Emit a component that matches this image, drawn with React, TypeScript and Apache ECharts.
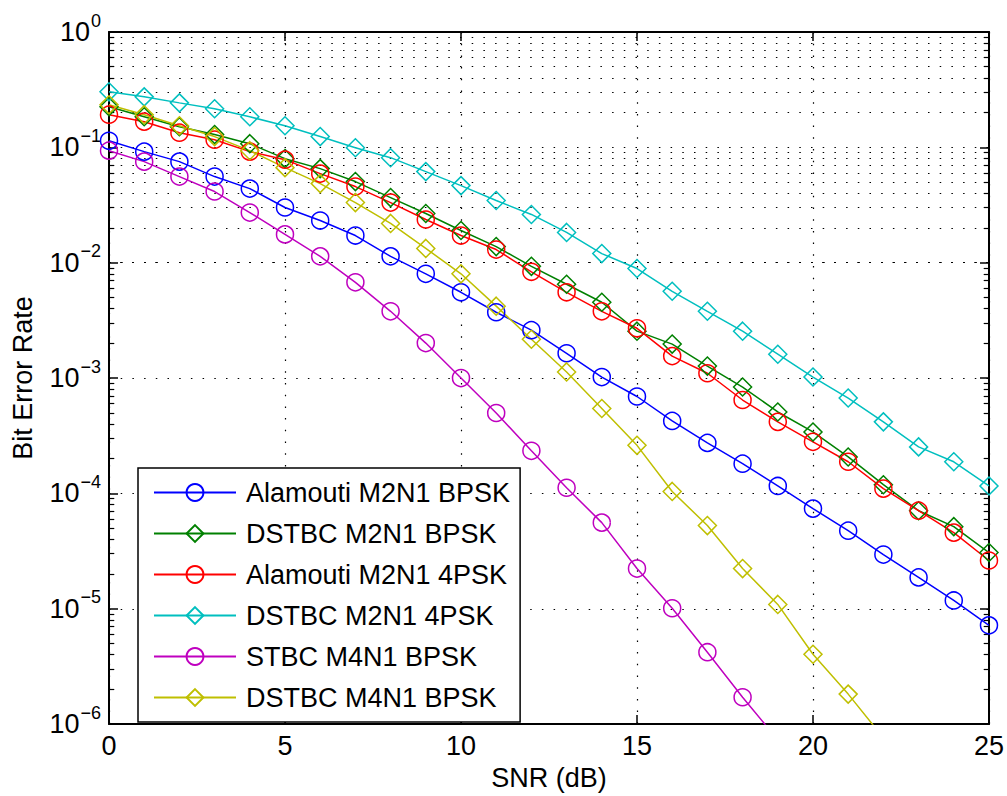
import React, { useEffect, useRef } from "react";
import * as echarts from "echarts";

const snr = [0, 1, 2, 3, 4, 5, 6, 7, 8, 9, 10, 11, 12, 13, 14, 15, 16, 17, 18, 19, 20, 21, 22, 23, 24, 25];

const alamoutiM2N1Bpsk = [0.114, 0.0918, 0.0752, 0.0558, 0.0439, 0.0301, 0.0232, 0.0172, 0.01135, 0.00801, 0.00554, 0.00372, 0.0026, 0.00164, 0.00102, 0.000692, 0.000425, 0.000274, 0.000181, 0.000116, 7.38e-5, 4.75e-5, 2.95e-5, 1.87e-5, 1.18e-5, 7.18e-6];
const dstbcM2N1Bpsk = [0.225, 0.184, 0.151, 0.129, 0.1076, 0.0798, 0.0654, 0.0505, 0.0367, 0.0267, 0.019, 0.0138, 0.0093, 0.0065, 0.00454, 0.00255, 0.00197, 0.00127, 0.000836, 0.000508, 0.000341, 0.000207, 0.000119, 7.08e-5, 5.15e-5, 3.07e-5];
const alamoutiM2N14psk = [0.192, 0.167, 0.134, 0.1165, 0.0918, 0.0782, 0.0592, 0.0457, 0.0332, 0.0237, 0.0172, 0.013, 0.00834, 0.00554, 0.00379, 0.0027, 0.00155, 0.0011, 0.000645, 0.000417, 0.00028, 0.000188, 0.00011, 7.08e-5, 4.57e-5, 2.62e-5];
const dstbcM2N14psk = [0.303, 0.274, 0.243, 0.216, 0.184, 0.154, 0.124, 0.0993, 0.0814, 0.0616, 0.0466, 0.0346, 0.0262, 0.0183, 0.012, 0.0089, 0.00565, 0.00379, 0.00255, 0.00161, 0.00102, 0.000671, 0.000417, 0.000253, 0.000188, 0.000116];
const stbcM4N1Bpsk = [0.0936, 0.0752, 0.0558, 0.0414, 0.0272, 0.0176, 0.01135, 0.00676, 0.00379, 0.00201, 0.001, 0.000498, 0.000234, 0.000112, 5.58e-5, 2.23e-5, 1.01e-5, 4.2e-6, 1.71e-6, 7.3e-7];
const dstbcM4N1Bpsk = [0.234, 0.192, 0.154, 0.124, 0.0936, 0.0667, 0.0485, 0.0332, 0.0219, 0.0133, 0.00801, 0.0042, 0.00217, 0.00113, 0.000545, 0.000261, 0.000104, 5.26e-5, 2.23e-5, 1.09e-5, 4.03e-6, 1.82e-6, 7.6e-7];

const seriesNames = [
  "Alamouti M2N1 BPSK",
  "DSTBC M2N1 BPSK",
  "Alamouti M2N1 4PSK",
  "DSTBC M2N1 4PSK",
  "STBC M4N1 BPSK",
  "DSTBC M4N1 BPSK",
];
const seriesValues = [alamoutiM2N1Bpsk, dstbcM2N1Bpsk, alamoutiM2N14psk, dstbcM2N14psk, stbcM4N1Bpsk, dstbcM4N1Bpsk];
const seriesColors = ["#0000FF", "#008000", "#FF0000", "#00BFBF", "#BF00BF", "#BFBF00"];
const seriesSymbols = ["circle", "diamond", "circle", "diamond", "circle", "diamond"];

const xTicks = [0, 5, 10, 15, 20, 25];
const decades = [-6, -5, -4, -3, -2, -1];
const minorMultipliers = [2, 3, 4, 5, 6, 7, 8, 9];

const FONT = "'Liberation Sans', Arial, Helvetica, sans-serif";

export default function App() {
  const ref = useRef<HTMLDivElement>(null);

  useEffect(() => {
    if (!ref.current) return;
    const chart = echarts.init(ref.current, undefined, { renderer: "svg" });

    const minorValues: number[] = [];
    decades.forEach((e) => minorMultipliers.forEach((m) => minorValues.push(m * Math.pow(10, e))));

    const dotted = { color: "#000", width: 1.2, type: [1.5, 10.2] as any };
    const tickLen = 0.15;

    const dataSeries = seriesNames.map((name, i) => ({
      name,
      type: "line",
      data: seriesValues[i].map((v, j) => [snr[j], v]),
      symbol: seriesSymbols[i],
      symbolSize: seriesSymbols[i] === "circle" ? 17 : 18,
      showSymbol: true,
      clip: true,
      z: 5,
      lineStyle: { color: seriesColors[i], width: 1.5 },
      itemStyle: { color: "rgba(0,0,0,0)", borderColor: seriesColors[i], borderWidth: 1.5 },
      emphasis: { disabled: true },
    }));

    const option: any = {
      animation: false,
      backgroundColor: "#fff",
      grid: { left: 109, right: 17, top: 32, bottom: 70, containLabel: false },
      legend: {
        orient: "vertical",
        left: 138,
        top: 468,
        padding: [11, 10, 11, 15],
        itemGap: 14,
        itemWidth: 82,
        itemHeight: 21,
        borderColor: "#000",
        borderWidth: 1.5,
        backgroundColor: "#fff",
        data: seriesNames,
        textStyle: { fontFamily: FONT, fontSize: 27, color: "#000", padding: [0, 0, 0, 5] },
        z: 10,
      },
      xAxis: [
        {
          type: "value",
          min: 0,
          max: 25,
          interval: 5,
          name: "SNR (dB)",
          nameLocation: "middle",
          nameGap: 39,
          nameTextStyle: { fontFamily: FONT, fontSize: 27, color: "#000" },
          axisLine: { show: true, onZero: false, lineStyle: { color: "#000", width: 2 } },
          axisTick: { show: true, inside: true, length: 9, lineStyle: { color: "#000", width: 1.5 } },
          axisLabel: {
            fontFamily: FONT,
            fontSize: 27,
            color: "#000",
            margin: 8,
            formatter: (v: number) => (xTicks.includes(v) ? String(v) : ""),
          },
          splitLine: { show: true, lineStyle: dotted },
        },
        {
          type: "value",
          position: "top",
          min: 0,
          max: 25,
          interval: 5,
          axisLine: { show: true, onZero: false, lineStyle: { color: "#000", width: 2 } },
          axisTick: { show: true, inside: true, length: 9, lineStyle: { color: "#000", width: 1.5 } },
          axisLabel: { show: false },
          splitLine: { show: false },
        },
      ],
      yAxis: [
        {
          type: "log",
          logBase: 10,
          min: 1e-6,
          max: 1,
          splitNumber: 6,
          name: "Bit Error Rate",
          nameLocation: "middle",
          nameGap: 73,
          nameTextStyle: { fontFamily: FONT, fontSize: 27, color: "#000" },
          axisLine: { show: true, onZero: false, lineStyle: { color: "#000", width: 2 } },
          axisTick: { show: true, inside: true, length: 9, lineStyle: { color: "#000", width: 1.5 } },
          axisLabel: {
            margin: 8,
            formatter: (v: number) => {
              const e = Math.round(Math.log10(v));
              const s = e < 0 ? "\u2212" + String(-e) : String(e);
              return `{b|10}{s|${s}}`;
            },
            rich: {
              b: { fontFamily: FONT, fontSize: 27, color: "#000", lineHeight: 27 },
              s: { fontFamily: FONT, fontSize: 18, color: "#000", lineHeight: 18, padding: [0, 0, 23, 1] },
            },
          },
          splitLine: { show: true, lineStyle: dotted },
        },
        {
          type: "log",
          logBase: 10,
          min: 1e-6,
          max: 1,
          splitNumber: 6,
          position: "right",
          axisLine: { show: true, onZero: false, lineStyle: { color: "#000", width: 2 } },
          axisTick: { show: true, inside: true, length: 9, lineStyle: { color: "#000", width: 1.5 } },
          axisLabel: { show: false },
          splitLine: { show: false },
        },
      ],
      series: [
        {
          name: "__minorGrid",
          type: "line",
          data: [],
          silent: true,
          z: 1,
          markLine: {
            silent: true,
            symbol: ["none", "none"],
            label: { show: false },
            lineStyle: dotted,
            emphasis: { disabled: true },
            data: minorValues.map((v) => ({ yAxis: v })),
          },
        },
        {
          name: "__minorTicks",
          type: "line",
          data: [],
          silent: true,
          z: 2,
          markLine: {
            silent: true,
            symbol: ["none", "none"],
            label: { show: false },
            lineStyle: { color: "#000", width: 1.2, type: "solid" },
            emphasis: { disabled: true },
            data: [
              ...minorValues.map((v) => [{ coord: [0, v] }, { coord: [tickLen, v] }]),
              ...minorValues.map((v) => [{ coord: [25 - tickLen, v] }, { coord: [25, v] }]),
            ],
          },
        },
        ...dataSeries,
      ],
    };

    chart.setOption(option);
    return () => chart.dispose();
  }, []);

  return (
    <div
      ref={ref}
      style={{ position: "absolute", left: 0, top: 0, width: 1007, height: 796, background: "#fff" }}
    />
  );
}
